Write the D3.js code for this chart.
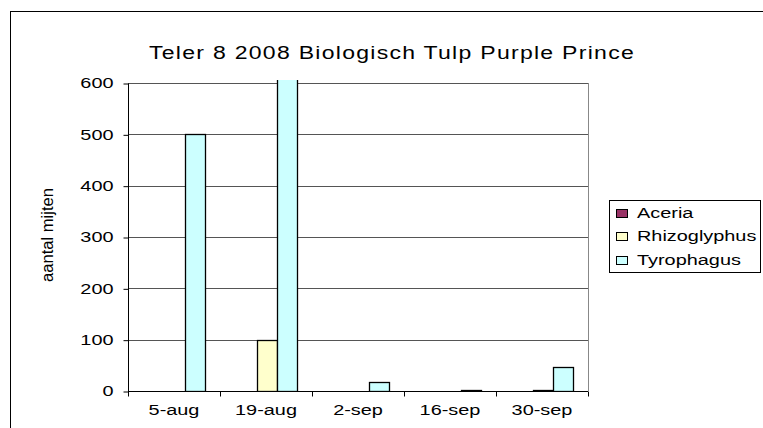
<!DOCTYPE html>
<html>
<head>
<meta charset="utf-8">
<script src="https://cdn.jsdelivr.net/npm/d3@7"></script>
<style>
  body { margin: 0; background: #fff; }
  text { font-family: "Liberation Sans", Arial, sans-serif; fill: #000; }
</style>
</head>
<body>
<div id="chart"></div>
<script>
// data
var dates = ["5-aug", "19-aug", "2-sep", "16-sep", "30-sep"];
var species = ["Aceria", "Rhizoglyphus", "Tyrophagus"];
var aceria = [0, 0, 0, 0, 0];
var rhizoglyphus = [0, 100, 0, 0, 2];
var tyrophagus = [500, 700, 18, 2, 47];   // 19-aug runs off the top of the axis
var yTicks = [0, 100, 200, 300, 400, 500, 600];
var colors = ["#993366", "#FFFFCC", "#CCFFFF"];

var width = 763, height = 428;
var plot = {left: 128, right: 588, top: 83, bottom: 391};
var wide = 1.42;   // the picture's text is drawn wide

// make text wider like in the original image
function stretch(sel) {
  sel.each(function() {
    var w = this.getComputedTextLength();
    d3.select(this).attr("textLength", w * wide).attr("lengthAdjust", "spacingAndGlyphs");
  });
}

var svg = d3.select("#chart").append("svg")
    .attr("width", width)
    .attr("height", height);

// outer chart frame
svg.append("rect")
    .attr("x", 10.5).attr("y", 11.5)
    .attr("width", 780).attr("height", 440)
    .attr("fill", "none").attr("stroke", "#000");

var x = d3.scaleBand().domain(dates).range([plot.left, plot.right]);
var xs = d3.scaleBand().domain(species).range([0, x.bandwidth()])
    .paddingInner(0).paddingOuter(0.75);
var y = d3.scaleLinear().domain([0, 600]).range([plot.bottom, plot.top]);

// gridlines
svg.append("g").selectAll("line")
  .data(yTicks.slice(1))
  .enter().append("line")
    .attr("x1", plot.left).attr("x2", plot.right)
    .attr("y1", function(d) { return Math.round(y(d)) + 0.5; })
    .attr("y2", function(d) { return Math.round(y(d)) + 0.5; })
    .attr("stroke", "#555");

// plot area right border
svg.append("line")
    .attr("x1", plot.right + 0.5).attr("x2", plot.right + 0.5)
    .attr("y1", plot.top).attr("y2", plot.bottom)
    .attr("stroke", "#888");

svg.append("clipPath").attr("id", "clip")
  .append("rect")
    .attr("x", plot.left).attr("y", plot.top - 3)
    .attr("width", plot.right - plot.left).attr("height", plot.bottom - plot.top + 3);

var series = [aceria, rhizoglyphus, tyrophagus];
var rows = [];
dates.forEach(function(d, i) {
  species.forEach(function(s, j) {
    rows.push({date: d, sp: s, value: series[j][i], color: colors[j]});
  });
});

svg.append("g").attr("clip-path", "url(#clip)")
  .selectAll("rect")
  .data(rows.filter(function(d) { return d.value > 0; }))
  .enter().append("rect")
    .attr("x", function(d) { return Math.round(x(d.date) + xs(d.sp)) + 1.5; })
    .attr("y", function(d) { return Math.round(y(d.value)) + 0.5; })
    .attr("width", Math.round(xs.bandwidth()))
    .attr("height", function(d) { return Math.round(y(0)) - Math.round(y(d.value)); })
    .attr("fill", function(d) { return d.color; })
    .attr("stroke", "#000")
    .attr("stroke-width", 1.3);

// y axis
var yAxis = svg.append("g")
    .attr("transform", "translate(" + (plot.left + 0.5) + ",0.5)")
    .call(d3.axisLeft(y).tickValues(yTicks).tickSize(5).tickPadding(10));
yAxis.select(".domain").attr("stroke", "#000").attr("d", "M0," + plot.top + "V" + plot.bottom);
yAxis.selectAll("text").style("font-size", "14px").style("font-family", "Liberation Sans, Arial, sans-serif")
    .call(stretch);

// x axis
var xAxis = svg.append("g")
    .attr("transform", "translate(0," + (plot.bottom + 0.5) + ")")
    .call(d3.axisBottom(x).tickSize(0).tickPadding(14));
xAxis.select(".domain").attr("stroke", "#000").attr("d", "M" + plot.left + ",0H" + plot.right);
xAxis.selectAll("text").style("font-size", "14px").style("font-family", "Liberation Sans, Arial, sans-serif")
    .call(stretch);
xAxis.selectAll(".bound")
  .data(dates.map(function(d) { return x(d); }).concat([plot.right]))
  .enter().append("line")
    .attr("x1", function(d) { return Math.round(d) + 0.5; })
    .attr("x2", function(d) { return Math.round(d) + 0.5; })
    .attr("y1", 0).attr("y2", 5)
    .attr("stroke", "#000");

// title
svg.append("text")
    .attr("x", 149).attr("y", 59)
    .attr("textLength", 486).attr("lengthAdjust", "spacingAndGlyphs")
    .style("font-size", "18px")
    .style("letter-spacing", "1px")
    .text("Teler 8 2008 Biologisch Tulp Purple Prince");

// y label
svg.append("text")
    .attr("transform", "translate(53,235) rotate(-90)")
    .attr("text-anchor", "middle")
    .attr("textLength", 94).attr("lengthAdjust", "spacingAndGlyphs")
    .style("font-size", "16px")
    .text("aantal mijten");

// legend
var legend = svg.append("g");
legend.append("rect")
    .attr("x", 609.5).attr("y", 200.5)
    .attr("width", 151).attr("height", 72)
    .attr("fill", "#fff").attr("stroke", "#000");
var item = legend.selectAll(".item")
  .data(species)
  .enter().append("g")
    .attr("transform", function(d, i) { return "translate(616," + [213, 236, 260][i] + ")"; });
item.append("rect")
    .attr("x", 0.5).attr("y", -3.5)
    .attr("width", 11).attr("height", 8)
    .attr("fill", function(d, i) { return colors[i]; })
    .attr("stroke", "#000");
item.append("text")
    .attr("x", 21).attr("y", 5)
    .style("font-size", "14px")
    .text(function(d) { return d; })
    .call(stretch);
</script>
</body>
</html>
